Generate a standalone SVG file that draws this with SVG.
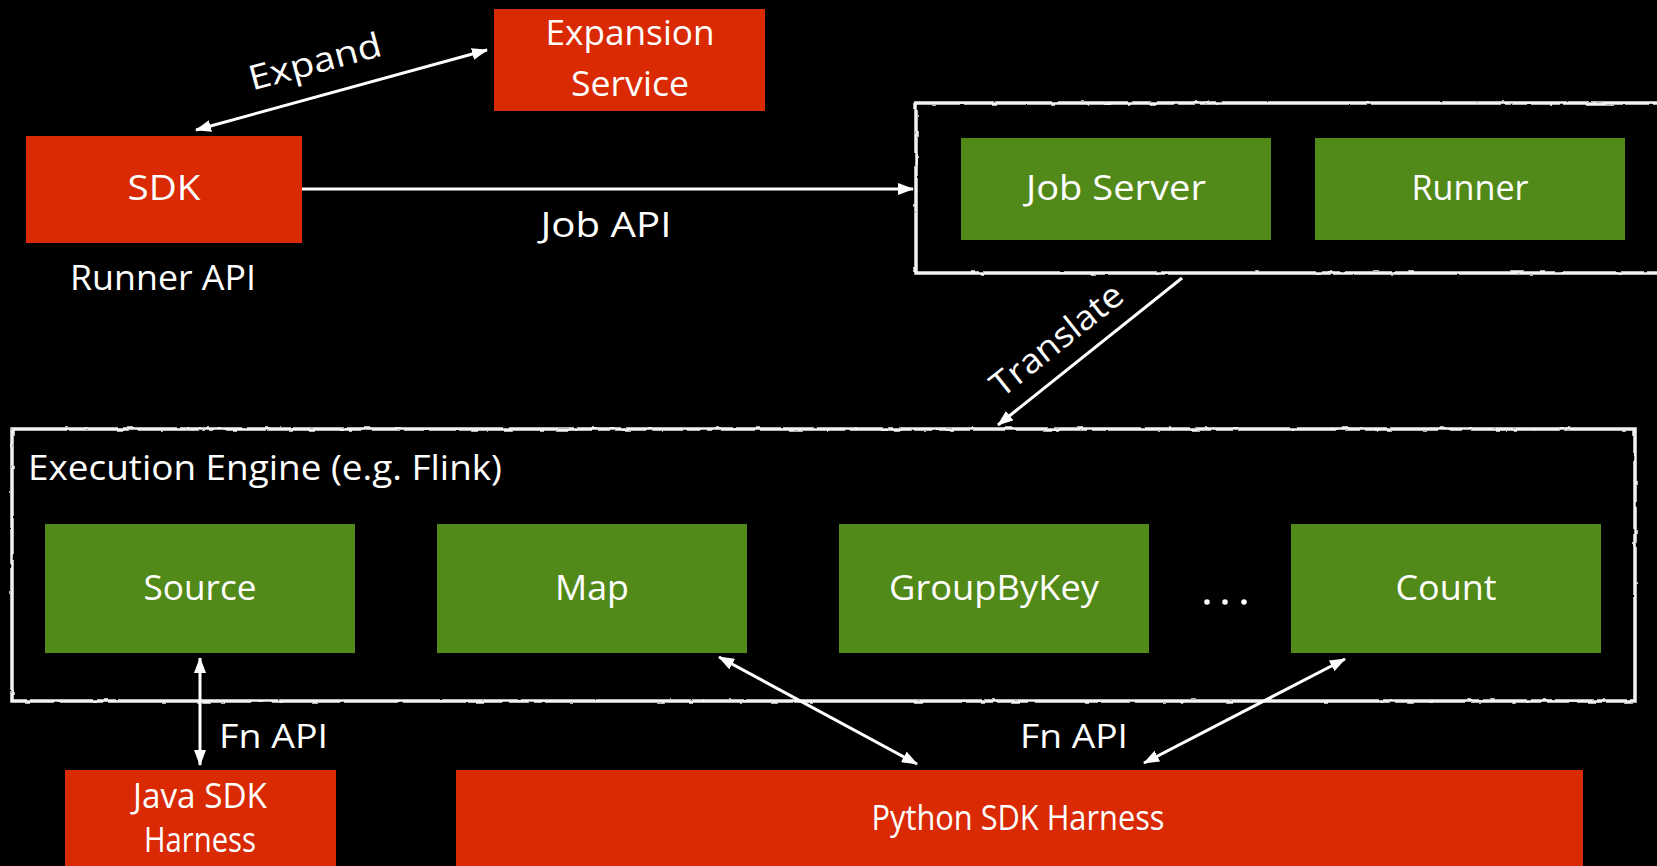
<svg xmlns="http://www.w3.org/2000/svg" width="1657" height="866" viewBox="0 0 1657 866">
  <style>
    .red { fill: #d92a03; }
    .green { fill: #528a19; }
    .t { font-family: "Open Sans", Lato, sans-serif; fill: #ffffff; }
    .lbl { font-size: 34px; text-anchor: middle; }
    .wire { stroke: #ffffff; stroke-width: 3; fill: none; }
    .frame { stroke: #f2f2f2; stroke-width: 3.5; fill: none; filter: url(#rough); }
  </style>
  <defs>
    <filter id="rough" x="-2%" y="-5%" width="104%" height="110%">
      <feTurbulence type="fractalNoise" baseFrequency="0.08" numOctaves="2" seed="3" result="n"/>
      <feDisplacementMap in="SourceGraphic" in2="n" scale="2.5" xChannelSelector="R" yChannelSelector="G"/>
    </filter>
    <marker id="head" viewBox="0 0 16 12" refX="15" refY="6" markerWidth="16" markerHeight="12" markerUnits="userSpaceOnUse" orient="auto-start-reverse">
      <path d="M0,0 L16,6 L0,12 Z" fill="#ffffff"/>
    </marker>
  </defs>

  <rect width="1657" height="866" fill="#000000"/>

  <!-- runner container frame -->
  <g id="runner-frame">
    <rect class="frame" x="916" y="103" width="760" height="170"/>
  </g>

  <!-- execution engine frame -->
  <g id="engine-frame">
    <rect class="frame" x="12" y="429" width="1623" height="272"/>
    <text class="t" x="28" y="480" font-size="34" textLength="474" lengthAdjust="spacingAndGlyphs">Execution Engine (e.g. Flink)</text>
  </g>

  <g id="sdk">
    <rect class="red" x="26" y="136" width="276" height="107"/>
    <text class="t lbl" x="164" y="200" font-size="36" textLength="73" lengthAdjust="spacingAndGlyphs">SDK</text>
    <text class="t lbl" x="163" y="290" textLength="186" lengthAdjust="spacingAndGlyphs">Runner API</text>
  </g>

  <g id="expansion-service">
    <rect class="red" x="494" y="9" width="271" height="102"/>
    <text class="t lbl" x="630" y="45" textLength="169" lengthAdjust="spacingAndGlyphs">Expansion</text>
    <text class="t lbl" x="630" y="96" textLength="118" lengthAdjust="spacingAndGlyphs">Service</text>
  </g>

  <g id="job-server">
    <rect class="green" x="961" y="138" width="310" height="102"/>
    <text class="t lbl" x="1116" y="200" textLength="180" lengthAdjust="spacingAndGlyphs">Job Server</text>
  </g>

  <g id="runner">
    <rect class="green" x="1315" y="138" width="310" height="102"/>
    <text class="t lbl" x="1470" y="200" textLength="117" lengthAdjust="spacingAndGlyphs">Runner</text>
  </g>

  <g id="source">
    <rect class="green" x="45" y="524" width="310" height="129"/>
    <text class="t lbl" x="200" y="600" textLength="113" lengthAdjust="spacingAndGlyphs">Source</text>
  </g>

  <g id="map">
    <rect class="green" x="437" y="524" width="310" height="129"/>
    <text class="t lbl" x="592" y="600" textLength="74" lengthAdjust="spacingAndGlyphs">Map</text>
  </g>

  <g id="groupbykey">
    <rect class="green" x="839" y="524" width="310" height="129"/>
    <text class="t lbl" x="994" y="600" textLength="210" lengthAdjust="spacingAndGlyphs">GroupByKey</text>
  </g>

  <g id="ellipsis">
    <circle cx="1207" cy="602" r="2.8" fill="#ffffff"/>
    <circle cx="1225" cy="602" r="2.8" fill="#ffffff"/>
    <circle cx="1244" cy="602" r="2.8" fill="#ffffff"/>
  </g>

  <g id="count">
    <rect class="green" x="1291" y="524" width="310" height="129"/>
    <text class="t lbl" x="1446" y="600" textLength="101" lengthAdjust="spacingAndGlyphs">Count</text>
  </g>

  <g id="java-harness">
    <rect class="red" x="65" y="770" width="271" height="110"/>
    <text class="t lbl" x="200" y="808" font-size="29" textLength="134" lengthAdjust="spacingAndGlyphs">Java SDK</text>
    <text class="t lbl" x="200" y="852" font-size="29" textLength="112" lengthAdjust="spacingAndGlyphs">Harness</text>
  </g>

  <g id="python-harness">
    <rect class="red" x="456" y="770" width="1127" height="110"/>
    <text class="t lbl" x="1018" y="830" font-size="29" textLength="293" lengthAdjust="spacingAndGlyphs">Python SDK Harness</text>
  </g>

  <g id="connectors">
    <line class="wire" x1="196" y1="130" x2="487" y2="50" marker-start="url(#head)" marker-end="url(#head)"/>
    <text class="t lbl" x="0" y="0" font-size="32" textLength="136" lengthAdjust="spacingAndGlyphs" transform="translate(318,73) rotate(-15)">Expand</text>

    <line class="wire" x1="302" y1="189" x2="913" y2="189" marker-end="url(#head)"/>
    <text class="t lbl" x="606" y="237" textLength="131" lengthAdjust="spacingAndGlyphs">Job API</text>

    <line class="wire" x1="1182" y1="278" x2="998" y2="425" marker-end="url(#head)"/>
    <text class="t lbl" x="0" y="0" font-size="32" textLength="159" lengthAdjust="spacingAndGlyphs" transform="translate(1064,349) rotate(-38.6)">Translate</text>

    <line class="wire" x1="200" y1="658" x2="200" y2="765" marker-start="url(#head)" marker-end="url(#head)"/>
    <text class="t" x="219" y="748" font-size="33" textLength="109" lengthAdjust="spacingAndGlyphs">Fn API</text>

    <line class="wire" x1="719" y1="657" x2="917" y2="764" marker-start="url(#head)" marker-end="url(#head)"/>
    <line class="wire" x1="1345" y1="659" x2="1144" y2="763" marker-start="url(#head)" marker-end="url(#head)"/>
    <text class="t" x="1020" y="748" font-size="33" textLength="108" lengthAdjust="spacingAndGlyphs">Fn API</text>
  </g>
</svg>
